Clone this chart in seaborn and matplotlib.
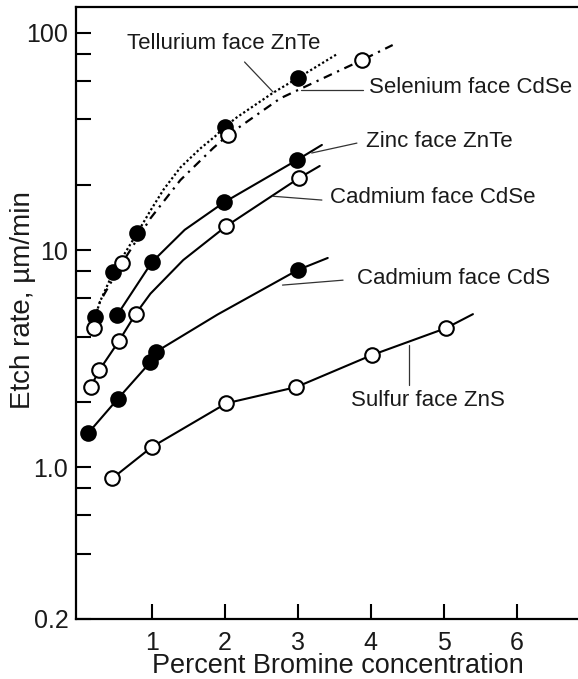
import numpy as np
import pandas as pd
import matplotlib
matplotlib.use("Agg")
import matplotlib.pyplot as plt
import seaborn as sns

sns.set_theme(style="white")
plt.rcParams['font.family'] = ['Liberation Sans', 'DejaVu Sans']

# ---------------- data ----------------
# measured points
te_x = [0.22, 0.47, 0.80, 2.00, 3.00]
te_y = [4.9, 7.9, 12.0, 37.0, 62.0]
se_x = [0.20, 0.59, 2.05, 3.88]
se_y = [4.4, 8.7, 34.0, 75.0]
zn_x = [0.52, 1.00, 1.99, 2.99]
zn_y = [5.0, 8.8, 16.6, 26.0]
cdse_x = [0.16, 0.28, 0.55, 0.78, 2.02, 3.02]
cdse_y = [2.34, 2.8, 3.82, 5.1, 12.9, 21.5]
cds_x = [0.13, 0.53, 0.98, 1.05, 3.00]
cds_y = [1.44, 2.06, 3.05, 3.39, 8.1]
zns_x = [0.46, 1.00, 2.02, 2.98, 4.01, 5.03]
zns_y = [0.89, 1.24, 1.97, 2.34, 3.28, 4.37]

# hand-drawn curves
te_cx = [0.22, 0.29, 0.47, 0.80, 0.98, 1.16, 1.39, 1.66, 1.87, 2.00, 2.17, 2.66, 3.00, 3.54]
te_cy = [4.9, 5.8, 7.9, 12.0, 15.2, 19.0, 24.0, 29.3, 33.5, 37.0, 41.0, 53.0, 62.0, 80.0]
se_cx = [0.22, 0.29, 0.59, 0.98, 1.39, 1.84, 2.05, 2.76, 3.44, 3.88, 4.30]
se_cy = [4.9, 5.8, 8.7, 14.0, 21.0, 29.5, 34.0, 50.0, 64.0, 75.0, 88.0]
zn_cx = [0.52, 1.00, 1.45, 1.99, 2.99, 3.33]
zn_cy = [5.0, 8.8, 12.4, 16.6, 26.0, 30.5]
cdse_cx = [0.16, 0.28, 0.55, 0.78, 0.98, 1.43, 2.02, 3.02, 3.30]
cdse_cy = [2.34, 2.8, 3.82, 5.1, 6.3, 9.0, 12.9, 21.5, 24.4]
cds_cx = [0.13, 0.53, 0.98, 1.05, 1.90, 3.00, 3.41]
cds_cy = [1.44, 2.06, 3.05, 3.39, 5.05, 8.1, 9.2]
zns_cx = [0.46, 1.00, 2.02, 2.98, 4.01, 5.03, 5.40]
zns_cy = [0.89, 1.24, 1.97, 2.34, 3.28, 4.37, 5.07]

x_ticks = [1, 2, 3, 4, 5, 6]
y_major = [0.2, 1.0, 10, 100]
y_major_labels = ["0.2", "1.0", "10", "100"]
y_minor = [0.4, 0.6, 0.8, 2, 4, 6, 8, 20, 40, 60, 80]

labels = ["Tellurium face ZnTe", "Selenium face CdSe", "Zinc face ZnTe",
          "Cadmium face CdSe", "Cadmium face CdS", "Sulfur face ZnS"]

# ---------------- figure ----------------
fig = plt.figure(figsize=(5.78, 6.79), dpi=100)
ax = fig.add_axes([76/578, 1 - 619/679, 502/578, 612/679])
ax.set_yscale('log')

lw = 1.5
curves = [
    (te_cx, te_cy, (0, (1, 1.1))),
    (se_cx, se_cy, (0, (4, 2.6, 1, 2.6))),
    (zn_cx, zn_cy, '-'),
    (cdse_cx, cdse_cy, '-'),
    (cds_cx, cds_cy, '-'),
    (zns_cx, zns_cy, '-'),
]
for cx, cy, ls in curves:
    d = pd.DataFrame({"x": cx, "y": cy})
    sns.lineplot(data=d, x="x", y="y", ax=ax, color="black", lw=lw if ls == '-' else 1.6,
                 linestyle=ls, sort=False, estimator=None)

pts = [
    (te_x, te_y, True), (se_x, se_y, False), (zn_x, zn_y, True),
    (cdse_x, cdse_y, False), (cds_x, cds_y, True), (zns_x, zns_y, False),
]
for px, py, filled in pts:
    d = pd.DataFrame({"x": px, "y": py})
    sns.scatterplot(data=d, x="x", y="y", ax=ax, s=110, marker='o',
                    color="black" if filled else "white", edgecolor="black",
                    linewidth=1.5, zorder=5)

ax.set_xlim(-0.04, 6.84)
ax.set_ylim(0.2, 131.7)

ax.set_xticks(x_ticks)
ax.set_xticklabels([str(t) for t in x_ticks])
ax.set_yticks(y_major)
ax.set_yticklabels(y_major_labels)
ax.set_yticks(y_minor, minor=True)
ax.yaxis.set_minor_formatter(matplotlib.ticker.NullFormatter())
ax.xaxis.set_minor_locator(matplotlib.ticker.NullLocator())

ax.tick_params(axis='both', which='both', direction='in', length=11, width=1.5,
               color='black', labelsize=18, labelcolor='#1a1a1a')
ax.tick_params(axis='y', which='both', pad=5.5, left=True)
ax.tick_params(axis='x', which='both', pad=9, bottom=True)

for s in ['left', 'bottom', 'top']:
    ax.spines[s].set_visible(True)
    ax.spines[s].set_color('black')
    ax.spines[s].set_linewidth(1.6)
ax.spines['right'].set_visible(False)

ax.set_xlabel("Percent Bromine concentration", fontsize=19.5, color='#1a1a1a')
ax.set_ylabel("Etch rate, µm/min", fontsize=20, color='#1a1a1a')
ax.xaxis.set_label_coords(0.521, -0.0890)
ax.xaxis.label.set_va('baseline')
ax.yaxis.set_label_coords(-0.1056, 0.521)
ax.yaxis.label.set_va('center')

# annotations: text position, leader from (x1,y1) to (x2,y2)
ann = [
    (labels[0], (0.66, 89.9), (2.27, 73.5), (2.66, 53.5)),
    (labels[1], (3.97, 55.8), (3.89, 54.6), (3.05, 54.6)),
    (labels[2], (3.93, 31.8), (3.81, 31.1), (3.19, 28.0)),
    (labels[3], (3.44, 17.4), (3.33, 17.0), (2.66, 17.7)),
    (labels[4], (3.81, 7.43), (3.62, 7.27), (2.79, 6.9)),
    (labels[5], (3.73, 2.04), (4.53, 3.65), (4.53, 2.39)),
]
for txt, tpos, p1, p2 in ann:
    ax.text(tpos[0], tpos[1], txt, fontsize=16, ha='left', va='center', color='#1a1a1a')
    ax.plot([p1[0], p2[0]], [p1[1], p2[1]], color='#333333', lw=0.9)

fig.savefig("out.png", dpi=100)
